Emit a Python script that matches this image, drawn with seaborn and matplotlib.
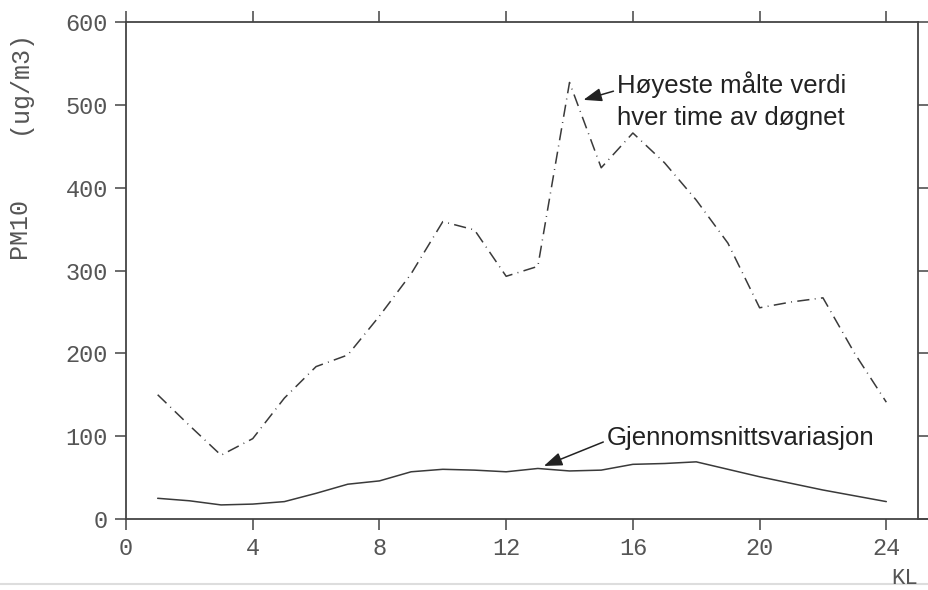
import matplotlib
matplotlib.use('Agg')
import matplotlib.pyplot as plt
from matplotlib.lines import Line2D
import seaborn as sns
import pandas as pd

# ---- data ----
hours = [1, 2, 3, 4, 5, 6, 7, 8, 9, 10, 11, 12,
         13, 14, 15, 16, 17, 18, 19, 20, 21, 22, 23, 24]
max_values = [150, 113, 77, 97, 146, 184, 198, 245, 296, 359, 349, 293,
              305, 527, 424, 466, 430, 385, 333, 255, 262, 267, 200, 141]
mean_values = [25, 22, 17, 18, 21, 31, 42, 46, 57, 60, 59, 57,
               61, 58, 59, 66, 67, 69, 60, 51, 43, 35, 28, 21]
x_ticks = [0, 4, 8, 12, 16, 20, 24]
y_ticks = [0, 100, 200, 300, 400, 500, 600]
label_max = ["Høyeste målte verdi", "hver time av døgnet"]
label_mean = "Gjennomsnittsvariasjon"

sns.set_theme(style='white')
plt.rcParams['font.family'] = ['Liberation Mono', 'DejaVu Sans']

W, H = 929, 590
fig = plt.figure(figsize=(W / 100, H / 100), dpi=100)
fig.patch.set_facecolor('white')
ax = fig.add_axes([126 / W, 71 / H, 792 / W, 497 / H])

df = pd.DataFrame({'hour': hours, 'max': max_values, 'mean': mean_values})

line_col = '#3a3a3a'
sns.lineplot(data=df, x='hour', y='max', ax=ax, color=line_col, lw=1.1,
             linestyle=(0, (8, 3.5, 0.6, 3.5)))
sns.lineplot(data=df, x='hour', y='mean', ax=ax, color=line_col, lw=1.1)

ax.set_xlim(0, 25)
ax.set_ylim(0, 600)
ax.set_xticks(x_ticks)
ax.set_yticks(y_ticks)
ax.set_xlabel('')
ax.set_ylabel('')
ax.tick_params(direction='out', length=8, width=1.1, colors='#444',
               labelcolor='#555', labelsize=17, pad=5,
               top=True, right=True, labeltop=False, labelright=False,
               bottom=True, left=True)
for s in ax.spines.values():
    s.set_visible(True)
    s.set_color('#444')
    s.set_linewidth(1.3)

# bottom axis line extends slightly past the right frame
fig.add_artist(Line2D([918 / W, 929 / W], [71 / H, 71 / H], color='#444', lw=1.3))
# faint page edge line at the bottom
fig.add_artist(Line2D([0, 1], [6 / H, 6 / H], color='#dddddd', lw=1.5))

# annotations
sans = ['Liberation Sans', 'DejaVu Sans']
ax.annotate(label_max[0], xy=(14.44, 506), xytext=(15.49, 514),
            fontsize=18.5, family=sans, color='#222', va='baseline', ha='left',
            arrowprops=dict(arrowstyle='-|>,head_length=0.6,head_width=0.22',
                            color='#222', lw=1.1, shrinkA=0, shrinkB=0,
                            relpos=(0, 0.3)))
ax.text(15.49, 476, label_max[1], fontsize=18.5, family=sans, color='#222',
        va='baseline', ha='left')

ax.annotate(label_mean, xy=(13.19, 64), xytext=(15.17, 89),
            fontsize=18.5, family=sans, color='#222', va='baseline', ha='left',
            arrowprops=dict(arrowstyle='-|>,head_length=0.6,head_width=0.22',
                            color='#222', lw=1.1, shrinkA=0, shrinkB=0,
                            relpos=(0, 0.4)))

# axis titles
mono = ['Liberation Mono', 'DejaVu Sans']
fig.text(19 / W, 1 - 228 / H, 'PM10', rotation=90, ha='center', va='center',
         fontsize=18, family=mono, color='#555')
fig.text(19 / W, 1 - 82 / H, '(ug/m3)', rotation=90, ha='center', va='center',
         fontsize=18, family=mono, color='#555')
fig.text(905 / W, 1 - 578 / H, 'KL', ha='center', va='center',
         fontsize=16, family=mono, color='#555')

fig.savefig('out.png', dpi=100, facecolor='white')
